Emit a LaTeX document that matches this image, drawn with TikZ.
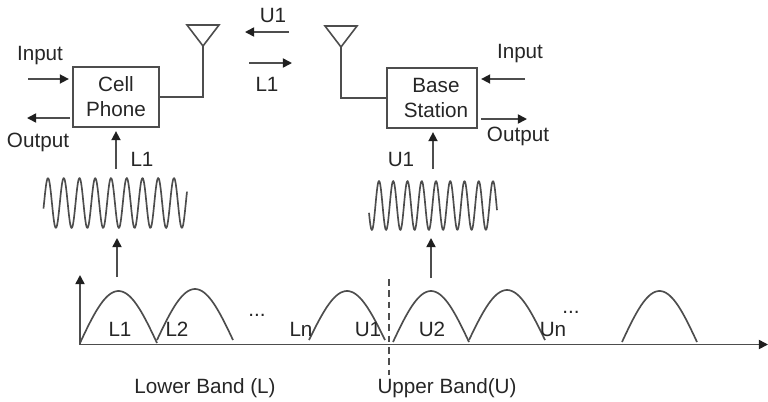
\documentclass[tikz,border=0pt]{standalone}
\usepackage{fontspec}
\setmainfont{Liberation Sans}
\usetikzlibrary{arrows.meta}
\definecolor{linegrey}{HTML}{4D4D4D}
\definecolor{inkgrey}{HTML}{262626}
\definecolor{tipgrey}{HTML}{1F1F1F}
\tikzset{
  wire/.style={draw=linegrey,line width=1.2pt},
  arr/.style={wire,-{Triangle[length=6.8pt,width=6.8pt,fill=tipgrey,color=tipgrey]}},
  arrgap/.style={arr,shorten >=2.5pt},
  lab/.style={anchor=base,inner sep=0pt,text=inkgrey,font=\fontsize{15.5}{18}\selectfont},
  boxnode/.style={draw=linegrey,line width=1.2pt,inner sep=0pt,text=inkgrey,align=center,
    font=\fontsize{15.5}{18.75}\selectfont},
  curve/.style={wire,line width=1.25pt,smooth,line join=round},
}
\begin{document}
\begin{tikzpicture}[x=0.75pt,y=-0.75pt]
\useasboundingbox (0,0) rectangle (768,401);
% boxes
\node[boxnode,minimum width=64.5pt,minimum height=45pt] (cell) at (116,97) {Cell\\Phone};
\node[boxnode,minimum width=67.5pt,minimum height=45pt] (base) at (432,98) {\hspace*{6pt}Base\\\hspace*{6pt}Station};
% antennas
\coordinate (antL) at (203,46);
\coordinate (antR) at (341,47);
\draw[wire,line join=miter] (187,25) -- (219,25) -- (antL) -- cycle;
\draw[wire,line join=miter] (325,26) -- (357,26) -- (antR) -- cycle;
\draw[wire] (antL) |- (cell.east);
\draw[wire] (antR) |- (base.west);
% free ends
\coordinate (cellIn) at (28,79);
\coordinate (cellOutA) at (70,118);
\coordinate (cellOutB) at (27,118);
\coordinate (baseIn) at (525,79);
\coordinate (baseOutA) at (481,119);
\coordinate (baseOutB) at (527,119);
\coordinate (airUa) at (289,32);
\coordinate (airUb) at (245,32);
\coordinate (airLa) at (249,63);
\coordinate (airLb) at (292,63);
\coordinate (sigL) at (116,169);
\coordinate (sigR) at (433,169);
\coordinate (specL) at (117,277);
\coordinate (specLt) at (117,238);
\coordinate (specR) at (431,278);
\coordinate (specRt) at (431,238);
\coordinate (origin) at (80,344.5);
\coordinate (yEnd) at (80,275);
\coordinate (xEnd) at (768,344.5);
\coordinate (dashA) at (389,279);
\coordinate (dashB) at (389,375);
% arrows
\draw[arrgap] (cellIn) -- (cellIn -| cell.west);
\draw[arr] (cellOutA) -- (cellOutB);
\draw[arrgap] (baseIn) -- (baseIn -| base.east);
\draw[arr] (baseOutA) -- (baseOutB);
\draw[arr] (airUa) -- (airUb);
\draw[arr] (airLa) -- (airLb);
\draw[arrgap] (sigL) -- (sigL |- cell.south);
\draw[arrgap] (sigR) -- (sigR |- base.south);
\draw[arr] (specL) -- (specLt);
\draw[arr] (specR) -- (specRt);
% carriers
\draw[curve] plot[domain=43.5:187,samples=180] (\x,{203-25*cos((\x-48)/15.75*360)});
\draw[curve] plot[domain=369:497,samples=180] (\x,{205.5-24.5*cos((\x-379)/14.25*360)});
% axes
\draw[arr] (origin) -- (yEnd);
\draw[arr] (origin) -- (xEnd);
\draw[wire,line width=1pt,dash pattern=on 5pt off 3.5pt] (dashA) -- (dashB);
% spectrum humps
\foreach \a/\b/\p/\f in {80/157/291/343,157/233/289/340,309/385/291/340,393/469/291/342,469/545/290/340,622/697/291/342}{
  \draw[curve] plot[domain=0:180,samples=40] ({\a+(\b-\a)*\x/180},{\f-(\f-\p)*sin(\x)});
}
% labels
\node[lab] (tIn1) at (40,60) {Input};
\node[lab] (tOut1) at (38,147) {Output};
\node[lab] (tU1a) at (273,22) {U1};
\node[lab] (tL1a) at (267,91) {L1};
\node[lab] (tL1b) at (142,166) {L1};
\node[lab] (tIn2) at (520,58) {Input};
\node[lab] (tOut2) at (518,141) {Output};
\node[lab] (tU1b) at (401,166) {U1};
\node[lab] (sL1) at (120,336) {L1};
\node[lab] (sL2) at (177,336) {L2};
\node[lab] (sD1) at (257,316) {...};
\node[lab] (sLn) at (301,336) {Ln};
\node[lab] (sU1) at (368,336) {U1};
\node[lab] (sU2) at (432,336) {U2};
\node[lab] (sUn) at (553,336) {Un};
\node[lab] (sD2) at (571,313) {...};
\node[lab] (tLow) at (205,393) {Lower Band (L)};
\node[lab] (tUp) at (447,393) {Upper Band(U)};
\end{tikzpicture}
\end{document}
